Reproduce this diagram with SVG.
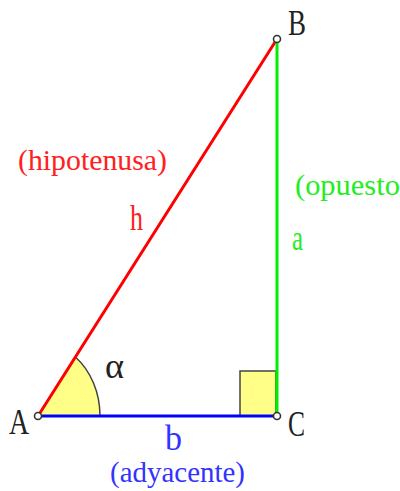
<svg xmlns="http://www.w3.org/2000/svg" width="400" height="491" viewBox="0 0 400 491">
<style>
text{font-family:"Liberation Serif","DejaVu Serif",serif}
.big{font-size:35px}
.par{font-size:29px}
.lbl{fill:#222}
.vtx{fill:#fff;stroke:#333;stroke-width:1.6}
.fillY{fill:#ffff88;stroke:#444;stroke-width:1.5}
.side{stroke-width:3;fill:none;stroke-linecap:round}
</style>
<rect width="400" height="491" fill="#fff"/>
<g id="angle-alpha">
<path class="fillY" d="M38 416 L100 416 A62 74 0 0 0 75.4 357 Z"/>
<text class="big lbl" x="105" y="378" textLength="19" lengthAdjust="spacingAndGlyphs">α</text>
</g>
<g id="right-angle">
<rect class="fillY" x="240" y="371" width="36" height="45"/>
</g>
<g id="connectors">
<line class="side" x1="38" y1="416" x2="277" y2="39" stroke="#ff0000"/>
<line class="side" x1="277" y1="39" x2="277" y2="416" stroke="#00ee00"/>
<line class="side" x1="38" y1="416" x2="277" y2="416" stroke="#0000ff"/>
<text class="par" x="18" y="170" fill="#ff2020" textLength="149" lengthAdjust="spacingAndGlyphs">(hipotenusa)</text>
<text class="big" x="130" y="230" fill="#ff2020" textLength="13" lengthAdjust="spacingAndGlyphs">h</text>
<text class="par" x="295" y="195" fill="#22ee22" textLength="115" lengthAdjust="spacingAndGlyphs">(opuesto)</text>
<text class="big" x="292" y="250" fill="#22ee22" textLength="11" lengthAdjust="spacingAndGlyphs">a</text>
<text class="big" x="165" y="450" fill="#3333ff" textLength="17" lengthAdjust="spacingAndGlyphs">b</text>
<text class="par" x="110" y="482" fill="#3333ff" textLength="135" lengthAdjust="spacingAndGlyphs">(adyacente)</text>
</g>
<g id="node-A">
<circle class="vtx" cx="38" cy="416" r="3.5"/>
<text class="big lbl" x="9" y="434" textLength="20" lengthAdjust="spacingAndGlyphs">A</text>
</g>
<g id="node-B">
<circle class="vtx" cx="277" cy="39" r="3.5"/>
<text class="big lbl" x="288" y="35" textLength="18" lengthAdjust="spacingAndGlyphs">B</text>
</g>
<g id="node-C">
<circle class="vtx" cx="277" cy="416" r="3.5"/>
<text class="big lbl" x="288" y="436" textLength="17" lengthAdjust="spacingAndGlyphs">C</text>
</g>
</svg>
